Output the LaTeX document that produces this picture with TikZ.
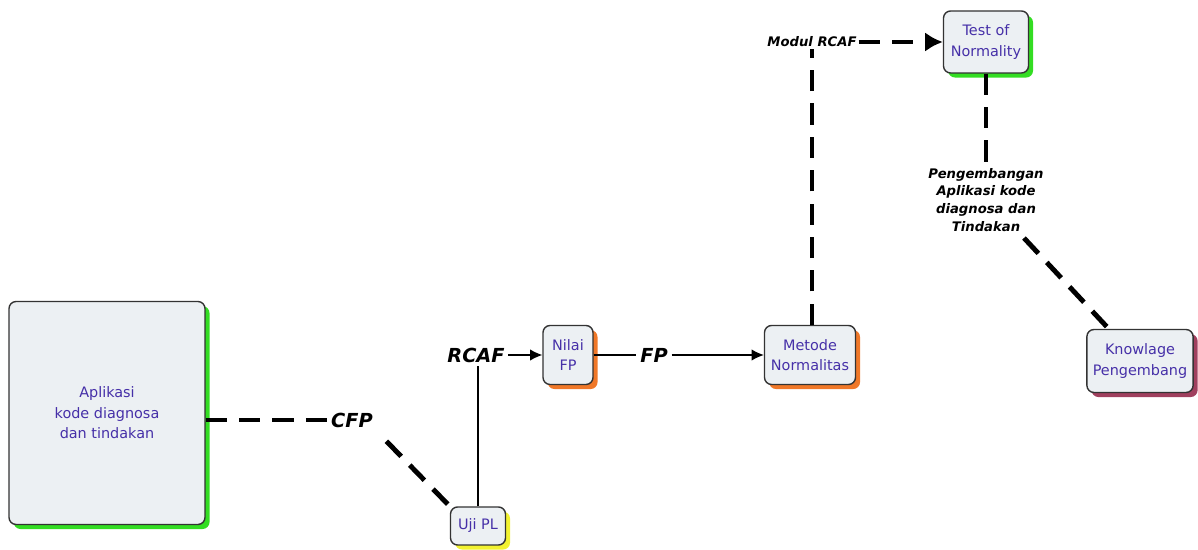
\documentclass[tikz,border=0pt]{standalone}
\usepackage{fontspec}
\setmainfont{DejaVu Sans}
\usetikzlibrary{arrows.meta}
\definecolor{boxfill}{HTML}{ECF0F3}
\definecolor{boxtext}{HTML}{4630A8}
\definecolor{shgreen}{HTML}{33DD22}
\definecolor{shorange}{HTML}{F07828}
\definecolor{shyellow}{HTML}{F2F230}
\definecolor{shmaroon}{HTML}{A0405E}

\begin{document}
\begin{tikzpicture}[x=0.02cm,y=-0.02cm,
  blok/.style={draw=black!80,line width=0.8pt,rounded corners=4pt,fill=boxfill,
    text=boxtext,align=center,font=\fontsize{8.2}{11.6}\selectfont,
    preaction={fill=#1,transform canvas={xshift=2.6pt,yshift=-2.6pt}}},
  lbl/.style={font=\bfseries\itshape\fontsize{11}{13}\selectfont,inner sep=2pt},
  slbl/.style={font=\bfseries\itshape\fontsize{7.5}{10.2}\selectfont,align=center,inner sep=1pt},
  tebal/.style={line width=2.8pt,dash pattern=on 12pt off 7pt},
  tipis/.style={line width=0.6pt}]
\useasboundingbox (0,0) rectangle (1198,550);

% Boxes
\node[blok=shgreen,minimum width=3.92cm,minimum height=4.46cm] (app) at (107,413) {Aplikasi\\kode diagnosa\\dan tindakan};
\node[blok=shyellow,minimum width=1.1cm,minimum height=0.76cm] (uji) at (478,526) {Uji PL};
\node[blok=shorange,minimum width=1.0cm,minimum height=1.18cm] (nilai) at (568,355) {Nilai\\FP};
\node[blok=shorange,minimum width=1.82cm,minimum height=1.18cm] (metode) at (810,355) {Metode\\Normalitas};
\node[blok=shgreen,minimum width=1.7cm,minimum height=1.24cm] (test) at (986,42) {Test of\\Normality};
\node[blok=shmaroon,minimum width=2.12cm,minimum height=1.26cm] (know) at (1140,361) {Knowlage\\Pengembang};

% Labels
\node[lbl] (cfp) at (352,420) {CFP};
\node[lbl] (rcaf) at (476,355) {RCAF};
\node[lbl] (fp) at (654,355) {FP};
\node[slbl] (modul) at (812,42) {Modul RCAF};
\node[slbl] (peng) at (986,200) {Pengembangan\\Aplikasi kode\\diagnosa dan\\Tindakan};
\coordinate (pengend) at (1024,238);

% Thick dashed connectors
\draw[tebal] (app.east |- cfp.west) -- (cfp.west);
\draw[tebal,shorten <=8pt] (cfp.south east) -- (uji.north west);
\draw[tebal] (metode.north -| modul.south) -- (modul.south);
\draw[tebal,-{Latex[length=10pt,width=11pt]}] (modul.east) -- (test.west);
\draw[tebal] (test.south) -- (peng.north);
\draw[tebal] (pengend) -- ([xshift=0.45cm]know.north west);

% Thin connectors
\draw[tipis] (uji.north) -- (uji.north |- rcaf.south);
\draw[tipis,-{Latex[length=7pt,width=6.5pt]}] (rcaf.east) -- (nilai.west);
\draw[tipis] (nilai.east) -- (fp.west);
\draw[tipis,-{Latex[length=7pt,width=6.5pt]}] (fp.east) -- (metode.west);

\end{tikzpicture}
\end{document}
